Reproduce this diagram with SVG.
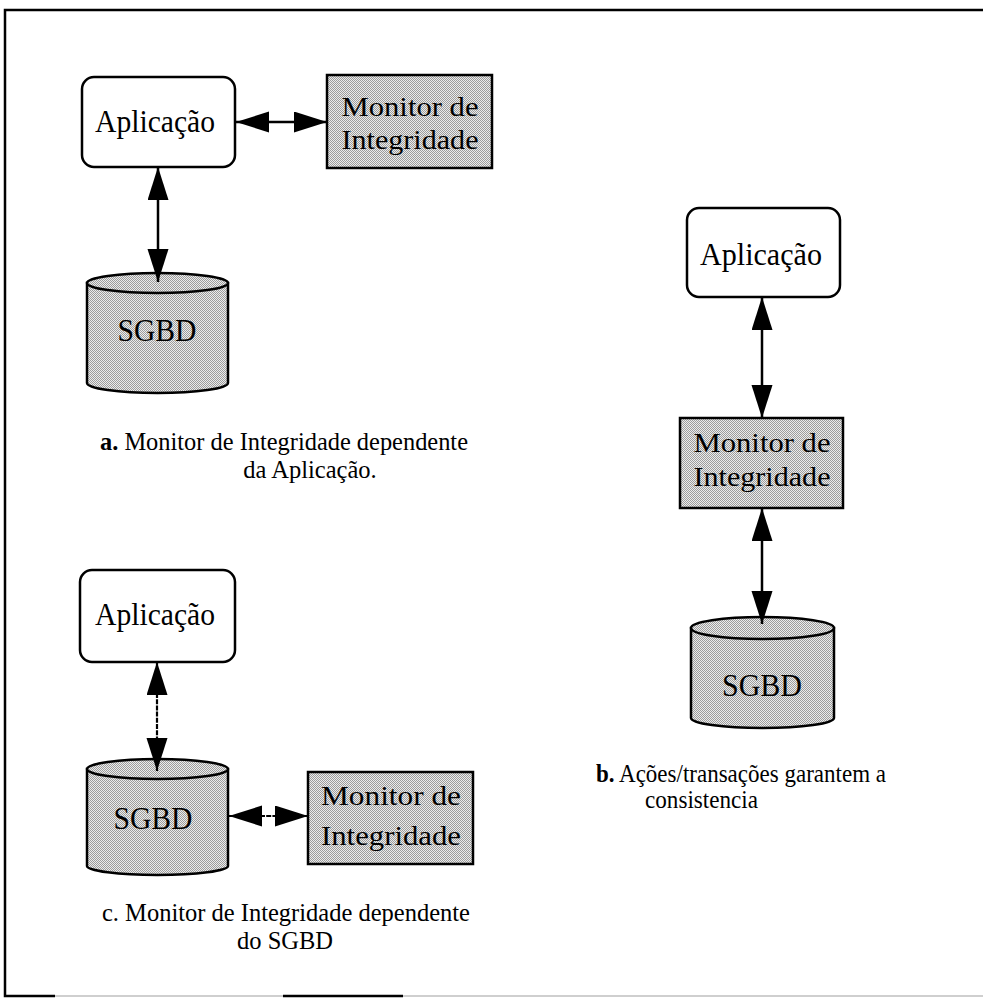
<svg xmlns="http://www.w3.org/2000/svg" width="983" height="1004" viewBox="0 0 983 1004">
  <defs>
    <!-- halftone grey used for the monitor boxes and database cylinders -->
    <pattern id="dither" width="2" height="2" patternUnits="userSpaceOnUse">
      <rect width="2" height="2" fill="#ececec"/>
      <rect x="0" y="0" width="1" height="1" fill="#9c9c9c"/>
      <rect x="1" y="1" width="1" height="1" fill="#9c9c9c"/>
    </pattern>
    <marker id="head" markerUnits="userSpaceOnUse" markerWidth="34" markerHeight="22" refX="33" refY="10.5" orient="auto-start-reverse">
      <path d="M0,0 L33,10.5 L0,21 Z" fill="#000"/>
    </marker>
  </defs>
  <style>
    .frame { stroke: #000; stroke-width: 2.5; fill: none; }
    .app { fill: #fff; stroke: #000; stroke-width: 2.5; }
    .mon { fill: url(#dither); stroke: #000; stroke-width: 2.5; }
    .db { fill: url(#dither); stroke: #000; stroke-width: 2.5; }
    .node-text { font-family: "Liberation Serif", "Times New Roman", serif; fill: #000; text-anchor: middle; }
    .lbl { font-size: 31px; }
    .mtx { font-size: 27px; }
    .cap { font-family: "Liberation Serif", "Times New Roman", serif; font-size: 24.5px; fill: #000; }
    .mid { text-anchor: middle; }
    .link { stroke: #000; stroke-width: 2.5; fill: none; marker-start: url(#head); marker-end: url(#head); }
    .link-dash { stroke-dasharray: 5 1.2; stroke-width: 2.2; }
  </style>

  <rect width="983" height="1004" fill="#fff"/>

  <!-- outer frame: open on the right side -->
  <g id="frame">
    <path class="frame" d="M983,10 L5,10 L5,996 L55,996"/>
    <line x1="55" y1="996" x2="983" y2="996" stroke="#cfcfcf" stroke-width="2"/>
    <line x1="283" y1="996" x2="403" y2="996" stroke="#000" stroke-width="2.5"/>
  </g>

  <!-- (a) monitor attached to the application -->
  <g id="a-app">
    <rect class="app" x="82" y="77" width="153" height="90" rx="12"/>
    <text class="node-text lbl" x="155" y="132" textLength="120" lengthAdjust="spacingAndGlyphs">Aplicação</text>
  </g>
  <g id="a-monitor">
    <rect class="mon" x="327" y="75" width="165" height="93"/>
    <text class="node-text mtx" x="410" y="116" textLength="137" lengthAdjust="spacingAndGlyphs">Monitor de</text>
    <text class="node-text mtx" x="410" y="149" textLength="137" lengthAdjust="spacingAndGlyphs">Integridade</text>
  </g>
  <g id="a-sgbd">
    <path class="db" d="M87,283 L87,383 A70.5,10 0 0 0 228,383 L228,283 Z"/>
    <ellipse class="db" cx="157.5" cy="283" rx="70.5" ry="10"/>
    <text class="node-text lbl" x="157" y="341" textLength="79" lengthAdjust="spacingAndGlyphs">SGBD</text>
  </g>
  <g id="a-caption">
    <text class="cap" x="100" y="450" textLength="368" lengthAdjust="spacingAndGlyphs"><tspan font-weight="bold">a.</tspan> Monitor de Integridade dependente</text>
    <text class="cap mid" x="310" y="478">da Aplicação.</text>
  </g>

  <!-- (b) monitor between application and database -->
  <g id="b-app">
    <rect class="app" x="687" y="208" width="153" height="89" rx="12"/>
    <text class="node-text lbl" x="761" y="265" textLength="122" lengthAdjust="spacingAndGlyphs">Aplicação</text>
  </g>
  <g id="b-monitor">
    <rect class="mon" x="680" y="418" width="163" height="90"/>
    <text class="node-text mtx" x="762" y="452" textLength="137" lengthAdjust="spacingAndGlyphs">Monitor de</text>
    <text class="node-text mtx" x="762" y="486" textLength="137" lengthAdjust="spacingAndGlyphs">Integridade</text>
  </g>
  <g id="b-sgbd">
    <path class="db" d="M691,628 L691,718 A71.5,10 0 0 0 834,718 L834,628 Z"/>
    <ellipse class="db" cx="762.5" cy="628" rx="71.5" ry="11"/>
    <text class="node-text lbl" x="762" y="696" textLength="80" lengthAdjust="spacingAndGlyphs">SGBD</text>
  </g>
  <g id="b-caption">
    <text class="cap" x="596" y="782" textLength="290" lengthAdjust="spacingAndGlyphs"><tspan font-weight="bold">b.</tspan> Ações/transações garantem a</text>
    <text class="cap" x="645" y="808" textLength="113" lengthAdjust="spacingAndGlyphs">consistencia</text>
  </g>

  <!-- (c) monitor attached to the DBMS -->
  <g id="c-app">
    <rect class="app" x="80" y="570" width="155" height="92" rx="12"/>
    <text class="node-text lbl" x="155" y="625" textLength="120" lengthAdjust="spacingAndGlyphs">Aplicação</text>
  </g>
  <g id="c-sgbd">
    <path class="db" d="M87,769 L87,866 A70.5,9 0 0 0 228,866 L228,769 Z"/>
    <ellipse class="db" cx="157.5" cy="769" rx="70.5" ry="10"/>
    <text class="node-text lbl" x="153" y="829" textLength="79" lengthAdjust="spacingAndGlyphs">SGBD</text>
  </g>
  <g id="c-monitor">
    <rect class="mon" x="308" y="772" width="165" height="92"/>
    <text class="node-text mtx" x="391" y="805" textLength="140" lengthAdjust="spacingAndGlyphs">Monitor de</text>
    <text class="node-text mtx" x="391" y="845" textLength="140" lengthAdjust="spacingAndGlyphs">Integridade</text>
  </g>
  <g id="c-caption">
    <text class="cap" x="102" y="921" textLength="368" lengthAdjust="spacingAndGlyphs">c. Monitor de Integridade dependente</text>
    <text class="cap mid" x="285" y="949">do SGBD</text>
  </g>

  <!-- connectors: all two-way -->
  <g id="connectors">
    <line class="link" x1="236" y1="122" x2="327" y2="122"/>
    <line class="link" x1="158" y1="167" x2="158" y2="282"/>
    <line class="link" x1="762" y1="297" x2="762" y2="418"/>
    <line class="link" x1="762" y1="508" x2="762" y2="624"/>
    <line class="link link-dash" x1="157" y1="662" x2="157" y2="771"/>
    <line class="link link-dash" x1="229" y1="816" x2="308" y2="816"/>
  </g>
</svg>
